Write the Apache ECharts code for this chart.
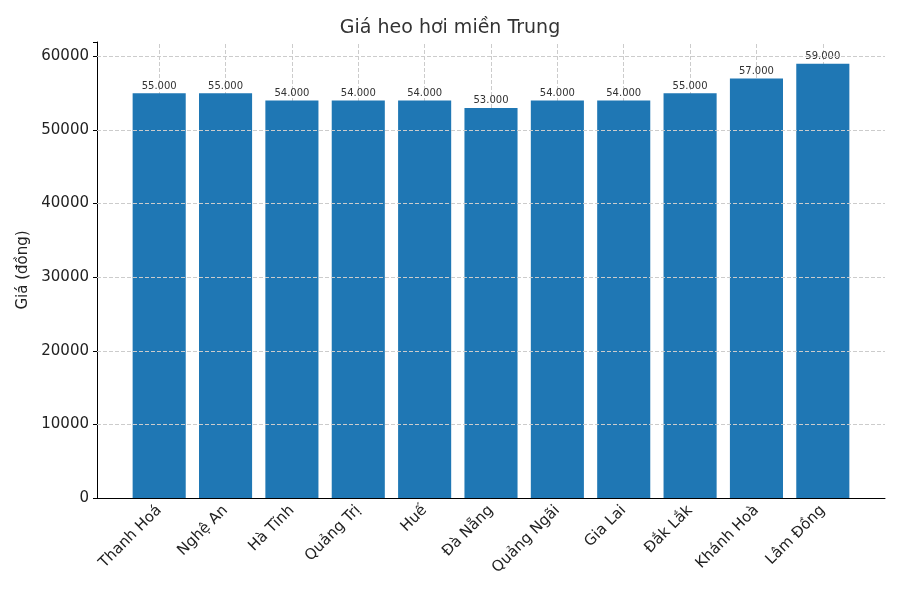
<!DOCTYPE html>
<html><head><meta charset="utf-8">
<script src="https://cdn.jsdelivr.net/npm/echarts@6/dist/echarts.min.js"></script>
</head><body style="margin:0">
<div id="c" style="width:900px;height:600px"></div>
<script>
const categories = ['Thanh Hoá','Nghệ An','Hà Tĩnh','Quảng Trị','Huế','Đà Nẵng','Quảng Ngãi','Gia Lai','Đắk Lắk','Khánh Hoà','Lâm Đồng'];
const prices = [55000,55000,54000,54000,54000,53000,54000,54000,55000,57000,59000];
const yTicks = [0,10000,20000,30000,40000,50000,60000];
const fmt = v => v.toLocaleString('de-DE');
const font = 'DejaVu Sans';
const chart = echarts.init(document.getElementById('c'));
const yBase = {type:'value',min:0,max:61950,interval:10000};
chart.setOption({
  textStyle:{fontFamily:font},
  title:{text:'Giá heo hơi miền Trung',left:'center',top:14,textStyle:{fontFamily:font,fontSize:19,fontWeight:'normal',color:'#333'}},
  grid:[{left:97,right:15,top:42,bottom:102},{left:126,right:44,top:42,bottom:102}],
  xAxis:[
    {gridIndex:0,type:'value',min:0,max:1,axisLine:{lineStyle:{color:'#000'}},axisTick:{show:false},axisLabel:{show:false},splitLine:{show:false}},
    {gridIndex:1,type:'category',data:categories,axisLine:{show:false},
     axisTick:{alignWithLabel:true,length:4,lineStyle:{color:'#000'}},
     axisLabel:{rotate:45,fontSize:15,color:'#222',margin:10,interval:0},splitLine:{show:false}}
  ],
  yAxis:[
    Object.assign({gridIndex:0,name:'Giá (đồng)',nameLocation:'middle',nameGap:66,nameTextStyle:{fontSize:15,color:'#222'},
      axisLine:{show:true,lineStyle:{color:'#000'}},axisTick:{show:true,length:4,lineStyle:{color:'#000'},interval:0},
      axisLabel:{fontSize:15,color:'#222',formatter:v=>yTicks.includes(v)?String(v):''},
      splitLine:{show:false}},yBase),
    Object.assign({gridIndex:1,show:false},yBase)
  ],
  series:[
    {type:'line',xAxisIndex:0,yAxisIndex:0,data:[[0,0]],symbol:'none',silent:true,
     markLine:{silent:true,symbol:'none',label:{show:false},lineStyle:{color:'#ccc',type:'dashed',width:1},
       data:yTicks.filter(v=>v>0).map(v=>({yAxis:v}))}},
    {type:'bar',xAxisIndex:1,yAxisIndex:1,data:prices,barWidth:'80%',
    itemStyle:{color:'#1f77b4'},
    label:{show:true,position:'top',distance:2,fontSize:10,color:'#333',formatter:p=>fmt(p.value)},
    markLine:{silent:true,symbol:'none',label:{show:false},z:1,
      lineStyle:{color:'#ccc',type:'dashed',width:1},
      data:categories.map(c=>({xAxis:c}))}
  }]
});
</script></body></html>
